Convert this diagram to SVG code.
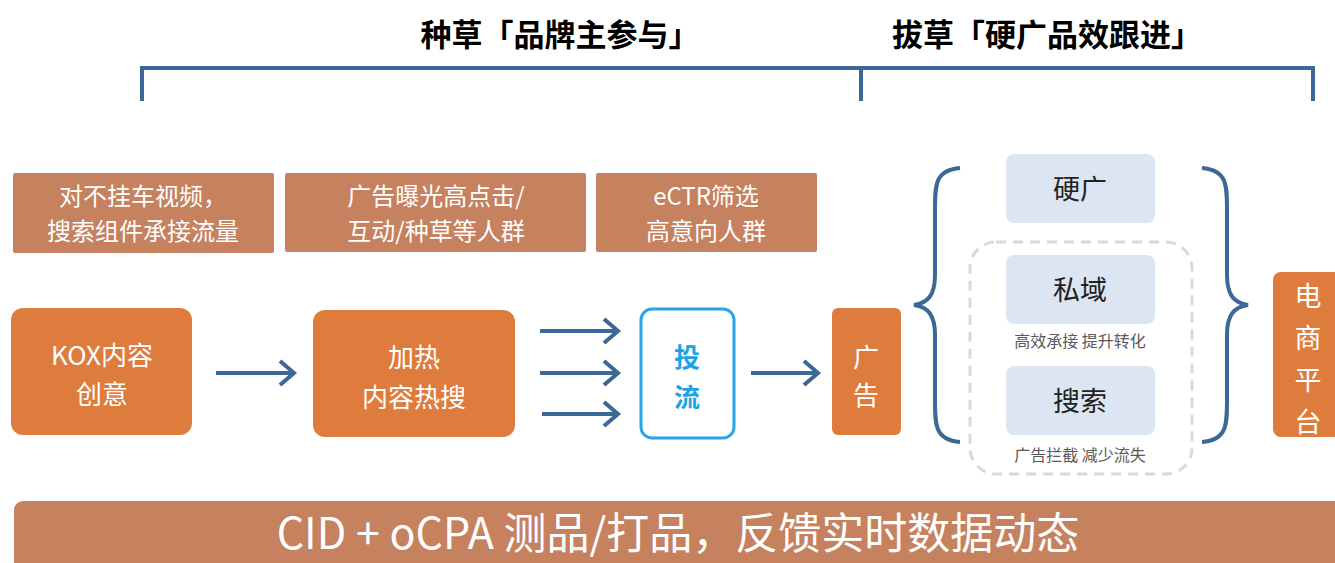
<svg xmlns="http://www.w3.org/2000/svg" width="1335" height="563" viewBox="0 0 1335 563">
<defs>
<style>
text{font-family:"Noto Sans CJK SC","Noto Sans",sans-serif;}
.title{font-size:31px;font-weight:bold;fill:#000;text-anchor:middle;}
.brk{fill:none;stroke:#3b6896;stroke-width:4;}
.tbox{fill:#c6815f;}
.obox{fill:#de7c3d;}
.wt{fill:#fff;font-size:26px;text-anchor:middle;}
.tt{fill:#fff;font-size:24px;text-anchor:middle;}
.vt{fill:#fff;font-size:27px;text-anchor:middle;}
.big{fill:#fff;font-size:43px;text-anchor:middle;}
.blue{fill:#1ea2e6;font-size:26px;font-weight:bold;text-anchor:middle;}
.bbox{fill:#dce6f2;}
.bt{fill:#222;font-size:27px;text-anchor:middle;}
.st{fill:#595959;font-size:16px;text-anchor:middle;}
.arr{fill:none;stroke:#3b6896;stroke-width:4;}
</style>
<marker id="ah" markerUnits="userSpaceOnUse" markerWidth="22" markerHeight="30" refX="16" refY="14" orient="auto">
<path d="M2,2 L16,14 L2,26" fill="none" stroke="#3b6896" stroke-width="4"/>
</marker>
</defs>

<text class="title" x="560" y="46">种草「品牌主参与」</text>
<text class="title" x="1047" y="46">拔草「硬广品效跟进」</text>
<path class="brk" d="M142,101 V68 H1313 V101 M861,68 V101"/>

<g id="tb1"><rect class="tbox" x="13" y="173" width="261" height="80" rx="2"/><text class="tt" x="143" y="205">对不挂车视频，</text><text class="tt" x="143" y="240">搜索组件承接流量</text></g>
<g id="tb2"><rect class="tbox" x="285" y="173" width="301" height="79" rx="2"/><text class="tt" x="436" y="205">广告曝光高点击/</text><text class="tt" x="436" y="240">互动/种草等人群</text></g>
<g id="tb3"><rect class="tbox" x="596" y="173" width="221" height="79" rx="2"/><text class="tt" x="706" y="205">eCTR筛选</text><text class="tt" x="706" y="240">高意向人群</text></g>

<g id="kox"><rect class="obox" x="11" y="308" width="181" height="127" rx="12"/><text class="wt" x="102" y="365">KOX内容</text><text class="wt" x="102" y="404">创意</text></g>
<g id="jiare"><rect class="obox" x="313" y="310" width="202" height="127" rx="12"/><text class="wt" x="414" y="367">加热</text><text class="wt" x="414" y="407">内容热搜</text></g>
<g id="touliu"><rect x="641" y="309" width="93" height="129" rx="11" fill="#fff" stroke="#2aa4e3" stroke-width="3"/><text class="blue" x="687" y="367">投</text><text class="blue" x="687" y="407">流</text></g>
<g id="guanggao"><rect class="obox" x="832" y="308" width="69" height="127" rx="6"/><text class="wt" x="866" y="367">广</text><text class="wt" x="866" y="405">告</text></g>

<g id="connectors">
<line class="arr" x1="216" y1="373" x2="294" y2="373" marker-end="url(#ah)"/>
<line class="arr" x1="540" y1="331" x2="618" y2="331" marker-end="url(#ah)"/>
<line class="arr" x1="540" y1="373" x2="618" y2="373" marker-end="url(#ah)"/>
<line class="arr" x1="542" y1="414" x2="618" y2="414" marker-end="url(#ah)"/>
<line class="arr" x1="751" y1="373" x2="818" y2="373" marker-end="url(#ah)"/>
</g>

<g id="braces">
<path class="brk" d="M960,168 C935,170 935,185 935,210 V275 C935,295 928,303 914,305 C928,307 935,315 935,335 V400 C935,425 935,440 960,442"/>
<path class="brk" d="M1202,168 C1227,170 1227,185 1227,210 V275 C1227,295 1234,303 1248,305 C1234,307 1227,315 1227,335 V400 C1227,425 1227,440 1202,442"/>
</g>

<g id="group-dashed"><rect x="970" y="242" width="222" height="232" rx="26" fill="none" stroke="#d9d9d9" stroke-width="3" stroke-dasharray="10 7"/></g>
<g id="yingguang"><rect class="bbox" x="1006" y="154" width="149" height="69" rx="8"/><text class="bt" x="1080" y="199">硬广</text></g>
<g id="siyu"><rect class="bbox" x="1006" y="255" width="149" height="69" rx="8"/><text class="bt" x="1080" y="300">私域</text><text class="st" x="1080" y="347">高效承接 提升转化</text></g>
<g id="sousuo"><rect class="bbox" x="1006" y="366" width="149" height="69" rx="8"/><text class="bt" x="1080" y="411">搜索</text><text class="st" x="1080" y="461">广告拦截 减少流失</text></g>

<g id="dianshang"><rect class="obox" x="1273" y="272" width="75" height="165" rx="8"/>
<text class="vt" x="1308" y="306">电</text><text class="vt" x="1308" y="348">商</text><text class="vt" x="1308" y="390">平</text><text class="vt" x="1308" y="432">台</text></g>

<g id="bottom"><rect class="tbox" x="14" y="501" width="1335" height="70" rx="9"/><text class="big" x="678" y="549">CID + oCPA 测品/打品，反馈实时数据动态</text></g>
</svg>
